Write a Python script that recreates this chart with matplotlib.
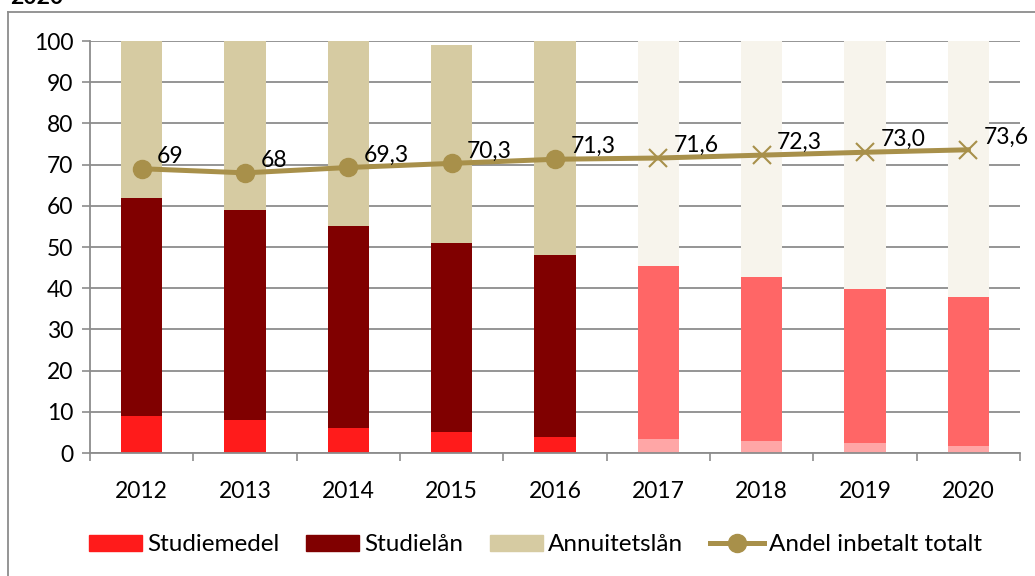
import numpy as np
import matplotlib.pyplot as plt
from matplotlib.lines import Line2D
from matplotlib.patches import Patch

plt.rcParams['font.family'] = ['Lato', 'DejaVu Sans']

years = ["2012", "2013", "2014", "2015", "2016", "2017", "2018", "2019", "2020"]
studiemedel = [9, 8, 6, 5, 4, 3.5, 3.0, 2.5, 1.8]
studielan = [53, 51, 49, 46, 44, 42, 39.8, 37.3, 36.1]
annuitetslan = [38, 41, 45, 48, 52, 54.5, 57.2, 60.2, 62.1]
andel = [69, 68, 69.3, 70.3, 71.3, 71.6, 72.3, 73.0, 73.6]
andel_labels = ["69", "68", "69,3", "70,3", "71,3", "71,6", "72,3", "73,0", "73,6"]
n_actual = 5  # 2017 onwards is forecast

c_medel = ["#FF1B1B"] * n_actual + ["#FFA6A6"] * (len(years) - n_actual)
c_lan = ["#800000"] * n_actual + ["#FF6666"] * (len(years) - n_actual)
c_ann = ["#D6CBA2"] * n_actual + ["#F7F4EC"] * (len(years) - n_actual)
line_col = "#A8904A"
fs = 16.5

fig = plt.figure(figsize=(10.35, 5.76), dpi=100)
ax = fig.add_axes([0.087, 0.2135, 0.8985, 0.7153])

x = np.arange(len(years))
w = 0.4
b1 = np.array(studiemedel)
b2 = b1 + np.array(studielan)
ax.bar(x, studiemedel, w, color=c_medel, zorder=2)
ax.bar(x, studielan, w, bottom=b1, color=c_lan, zorder=2)
ax.bar(x, annuitetslan, w, bottom=b2, color=c_ann, zorder=2)

ax.plot(x, andel, color=line_col, lw=3.6, zorder=3)
ax.plot(x[:n_actual], andel[:n_actual], 'o', color=line_col, ms=13, zorder=4)
ax.plot(x[n_actual:], andel[n_actual:], 'x', color=line_col, ms=13, mew=1.5, zorder=4)
for xi, yi, lab in zip(x, andel, andel_labels):
    ax.annotate(lab, (xi, yi), xytext=(11, 9), textcoords='offset points',
                fontsize=fs, va='center', ha='left', zorder=5)

ax.set_xlim(-0.5, len(years) - 0.5)
ax.set_ylim(0, 100)
ax.set_yticks(range(0, 101, 10))
ax.set_xticks(x)
ax.set_xticklabels(years)
ax.set_xticks(np.arange(-0.5, len(years), 1), minor=True)
ax.tick_params(axis='x', which='major', length=0, labelsize=fs, pad=20)
ax.tick_params(axis='x', which='minor', length=6, width=1.2, color='#8c8c8c')
ax.tick_params(axis='y', length=6, width=1.2, color='#8c8c8c', labelsize=fs, pad=6)
ax.grid(axis='y', color='#8c8c8c', lw=1.3, zorder=0)
ax.set_axisbelow(True)
for s in ['top', 'right']:
    ax.spines[s].set_visible(False)
for s in ['left', 'bottom']:
    ax.spines[s].set_color('#8c8c8c')
    ax.spines[s].set_linewidth(1.3)

handles = [Patch(color="#FF1B1B"), Patch(color="#800000"), Patch(color="#D6CBA2"),
           Line2D([], [], color=line_col, lw=3.6, marker='o', ms=13)]
labels = ["Studiemedel", "Studielån", "Annuitetslån", "Andel inbetalt totalt"]
fig.legend(handles, labels, loc='center', bbox_to_anchor=(0.517, 0.054), ncol=4,
           frameon=False, fontsize=17.5, handlelength=2.2, handleheight=0.62,
           handletextpad=0.2, columnspacing=1.1)

# outer chart frame
fig.add_artist(Line2D([8 / 1035, 8 / 1035], [0, 1 - 12 / 576], color='#8c8c8c', lw=1.3))
fig.add_artist(Line2D([8 / 1035, 1], [1 - 12 / 576, 1 - 12 / 576], color='#8c8c8c', lw=1.3))

fig.text(10 / 1035, 1 - 4 / 576, "2020", fontsize=fs, fontweight='bold', va='baseline')

fig.savefig("out.png", dpi=100)
